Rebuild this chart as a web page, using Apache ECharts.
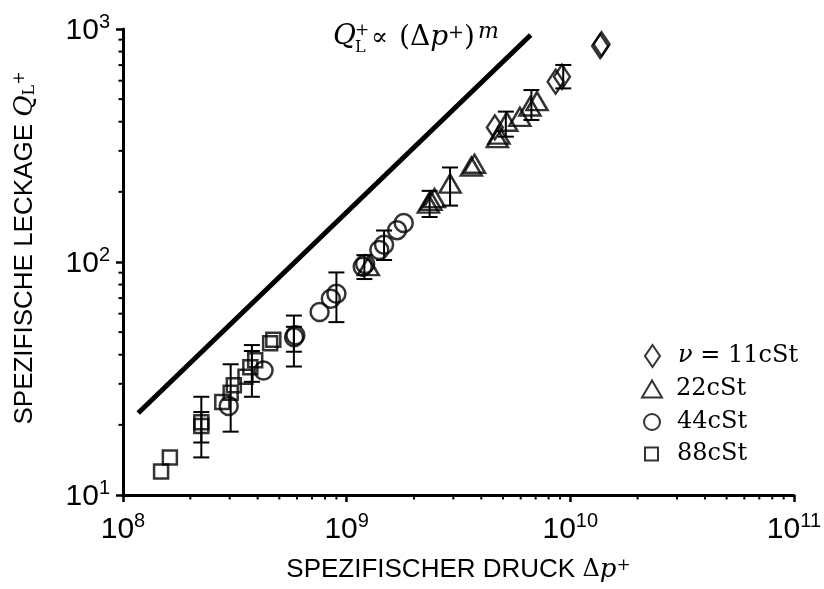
<!DOCTYPE html>
<html>
<head>
<meta charset="utf-8">
<script src="https://cdn.jsdelivr.net/npm/echarts@6/dist/echarts.min.js"></script>
<style>
  html, body { margin: 0; padding: 0; background: #fff; }
  #chart { width: 824px; height: 589px; }
</style>
</head>
<body>
<div id="chart"></div>
<script>
// values: [spezifischer Druck, spezifische Leckage]
const nu11 = [[4.6e9, 378], [8.6e9, 594], [9.18e9, 624], [1.36e10, 845], [1.38e10, 860]]
const nu22 = [[1.25e9, 96], [2.32e9, 178], [2.38e9, 183], [2.47e9, 188], [2.9e9, 217], [3.61e9, 257],
    [3.73e9, 264], [4.72e9, 340], [4.8e9, 352], [5.2e9, 400], [5.95e9, 420], [6.6e9, 465], [7.1e9, 490]]
const nu44 = [[2.97e8, 24.1], [4.25e8, 34.2], [5.82e8, 47.5], [5.9e8, 48.5], [7.57e8, 61], [8.5e8, 69.5],
    [9.0e8, 73], [1.18e9, 95.4], [1.21e9, 98], [1.40e9, 112.6], [1.47e9, 118.5], [1.68e9, 137], [1.80e9, 147]]
const nu88 = [[1.48e8, 12.6], [1.62e8, 14.5], [2.24e8, 20.5], [2.24e8, 19.8], [2.78e8, 25.1], [3.03e8, 27.5],
    [3.13e8, 29.6], [3.53e8, 32.2], [3.71e8, 35.3], [3.9e8, 37.9], [4.55e8, 44.8], [4.7e8, 46.4]]
// error bars: [x, unten, oben]
const errBars = [[2.24e8, 14.5, 26.4], [2.24e8, 16.8, 22.7], [3.03e8, 18.7, 36.4], [3.77e8, 26.4, 44],
    [3.77e8, 30.6, 41.5], [5.81e8, 35.6, 58.9], [5.81e8, 41.2, 52.7], [9.0e8, 55.2, 90.2], [1.2e9, 84.5, 107],
    [1.47e9, 102, 136.5], [2.35e9, 156, 202], [2.9e9, 174.6, 254.5], [5.15e9, 345, 442], [6.7e9, 407, 547],
    [9.3e9, 556, 701]]
// trend line Q ~ dp^m
const trend = [[1.17e8, 22.5], [6.65e9, 943]]
const xRange = [1e8, 1e11]
const yRange = [10, 1000]
const minorSteps = [2, 3, 4, 5, 6, 7, 8, 9]

function minorTicks(range) {
    let arr = []
    for (let d = range[0]; d < range[1]; d *= 10) {
        minorSteps.forEach(s => arr.push([d * s]))
    }
    return arr
}

const chart = echarts.init(document.getElementById('chart'))
const black = '#000'
const markerStyle = { color: 'rgba(0,0,0,0)', borderColor: black, borderWidth: 2.5 }
const supLabel = v => '{b|10}{s|' + Math.round(Math.log10(v)) + '}'
const labelRich = {
    b: { fontSize: 30, fontFamily: 'Liberation Sans', color: black, lineHeight: 34, verticalAlign: 'bottom' },
    s: { fontSize: 20, fontFamily: 'Liberation Sans', color: black, lineHeight: 20, verticalAlign: 'top' }
}
const serif = 'DejaVu Serif'
const legendText = {
    fontFamily: serif, fontSize: 24, color: black,
    rich: { i: { fontFamily: serif, fontStyle: 'italic', fontSize: 24, color: black } }
}

// one legend per viscosity so every marker keeps its own size
function legendItem(name, icon, w, h, left, top, pad) {
    return {
        orient: 'vertical', left: left, top: top, itemWidth: w, itemHeight: h,
        data: [{ name: name, icon: icon }],
        formatter: n => n === '11cSt' ? '{i|ν} = 11cSt' : n,
        textStyle: Object.assign({ padding: [0, 0, 0, pad] }, legendText)
    }
}

let option = {
    animation: false,
    grid: { left: 123, right: 23, top: 29, bottom: 94 },
    xAxis: {
        type: 'log', logBase: 10, min: xRange[0], max: xRange[1],
        name: 'SPEZIFISCHER DRUCK {d|Δ}{p|p}{sup|+}',
        nameLocation: 'middle', nameGap: 62,
        nameTextStyle: {
            fontFamily: 'Liberation Sans', fontSize: 26, color: black,
            rich: {
                d: { fontFamily: serif, fontSize: 24, color: black },
                p: { fontFamily: serif, fontStyle: 'italic', fontSize: 26, color: black },
                sup: { fontFamily: serif, fontSize: 17, color: black, verticalAlign: 'top', lineHeight: 17 }
            }
        },
        axisLine: { lineStyle: { color: black, width: 3 } },
        axisTick: { inside: false, length: 7, lineStyle: { color: black, width: 2.5 } },
        axisLabel: { margin: 16, formatter: supLabel, rich: labelRich },
        splitLine: { show: false }
    },
    yAxis: {
        type: 'log', logBase: 10, min: yRange[0], max: yRange[1],
        name: 'SPEZIFISCHE LECKAGE {q|Q}{sub|L}{sup|+}',
        nameLocation: 'middle', nameGap: 85, nameRotate: 90,
        nameTextStyle: {
            fontFamily: 'Liberation Sans', fontSize: 26, color: black, padding: [0, 0, 0, 28],
            rich: {
                q: { fontFamily: serif, fontStyle: 'italic', fontSize: 26, color: black },
                sub: { fontFamily: serif, fontSize: 16, color: black, verticalAlign: 'bottom', lineHeight: 16 },
                sup: { fontFamily: serif, fontSize: 16, color: black, verticalAlign: 'top', lineHeight: 16 }
            }
        },
        axisLine: { lineStyle: { color: black, width: 3 } },
        axisTick: { inside: false, length: 7, lineStyle: { color: black, width: 2.5 } },
        axisLabel: { margin: 13, formatter: supLabel, rich: labelRich },
        splitLine: { show: false }
    },
    legend: [
        legendItem('11cSt', 'diamond', 15, 22, 639, 339, 13),
        legendItem('22cSt', 'triangle', 20, 17, 636, 372, 9),
        legendItem('44cSt', 'circle', 16, 16, 638, 405, 12),
        legendItem('88cSt', 'rect', 13, 13, 639, 437, 14)
    ],
    graphic: [
        { type: 'text', left: 333, top: 23, style: { text: 'Q', font: 'italic 28px "DejaVu Serif"', fill: black } },
        { type: 'text', left: 355, top: 22, style: { text: '+', font: '17px "DejaVu Serif"', fill: black } },
        { type: 'text', left: 355, top: 40, style: { text: 'L', font: '16px "DejaVu Serif"', fill: black } },
        { type: 'text', left: 371, top: 26, style: { text: '∝', font: '25px "DejaVu Serif"', fill: black } },
        {
            type: 'text', left: 399, top: 24,
            style: {
                text: '(Δ{p|p}{s|+})',
                font: '28px "DejaVu Serif"', fill: black,
                rich: {
                    p: { fontFamily: serif, fontStyle: 'italic', fontSize: 28 },
                    s: { fontFamily: serif, fontSize: 19, verticalAlign: 'top', lineHeight: 19 }
                }
            }
        },
        { type: 'text', left: 478, top: 21, style: { text: 'm', font: 'italic 22px "DejaVu Serif"', fill: black } }
    ],
    series: [
        {
            // minor ticks x
            type: 'custom', silent: true, clip: false, z: 1,
            data: minorTicks(xRange),
            renderItem: (params, api) => {
                let p = api.coord([api.value(0), yRange[0]])
                return { type: 'line', shape: { x1: p[0], y1: p[1], x2: p[0], y2: p[1] + 4.5 }, style: { stroke: black, lineWidth: 2 } }
            }
        },
        {
            // minor ticks y
            type: 'custom', silent: true, clip: false, z: 1,
            data: minorTicks(yRange),
            renderItem: (params, api) => {
                let p = api.coord([xRange[0], api.value(0)])
                return { type: 'line', shape: { x1: p[0], y1: p[1], x2: p[0] - 4.5, y2: p[1] }, style: { stroke: black, lineWidth: 2 } }
            }
        },
        {
            type: 'custom', silent: true, z: 2,
            data: errBars,
            renderItem: (params, api) => {
                let lo = api.coord([api.value(0), api.value(1)])
                let hi = api.coord([api.value(0), api.value(2)])
                let w = 8
                let st = { stroke: black, lineWidth: 2 }
                return {
                    type: 'group',
                    children: [
                        { type: 'line', shape: { x1: lo[0], y1: lo[1], x2: hi[0], y2: hi[1] }, style: st },
                        { type: 'line', shape: { x1: lo[0] - w, y1: lo[1], x2: lo[0] + w, y2: lo[1] }, style: st },
                        { type: 'line', shape: { x1: hi[0] - w, y1: hi[1], x2: hi[0] + w, y2: hi[1] }, style: st }
                    ]
                }
            }
        },
        {
            type: 'line', data: trend, symbol: 'none', silent: true, z: 3,
            lineStyle: { color: black, width: 5 }
        },
        { name: '11cSt', type: 'scatter', symbol: 'diamond', symbolSize: [16, 24], data: nu11, itemStyle: markerStyle, z: 4 },
        { name: '22cSt', type: 'scatter', symbol: 'triangle', symbolSize: [21, 18], data: nu22, itemStyle: markerStyle, z: 4 },
        { name: '44cSt', type: 'scatter', symbol: 'circle', symbolSize: 18, data: nu44, itemStyle: markerStyle, z: 4 },
        { name: '88cSt', type: 'scatter', symbol: 'rect', symbolSize: 14, data: nu88, itemStyle: markerStyle, z: 4 }
    ]
}
chart.setOption(option)
</script>
</body>
</html>
